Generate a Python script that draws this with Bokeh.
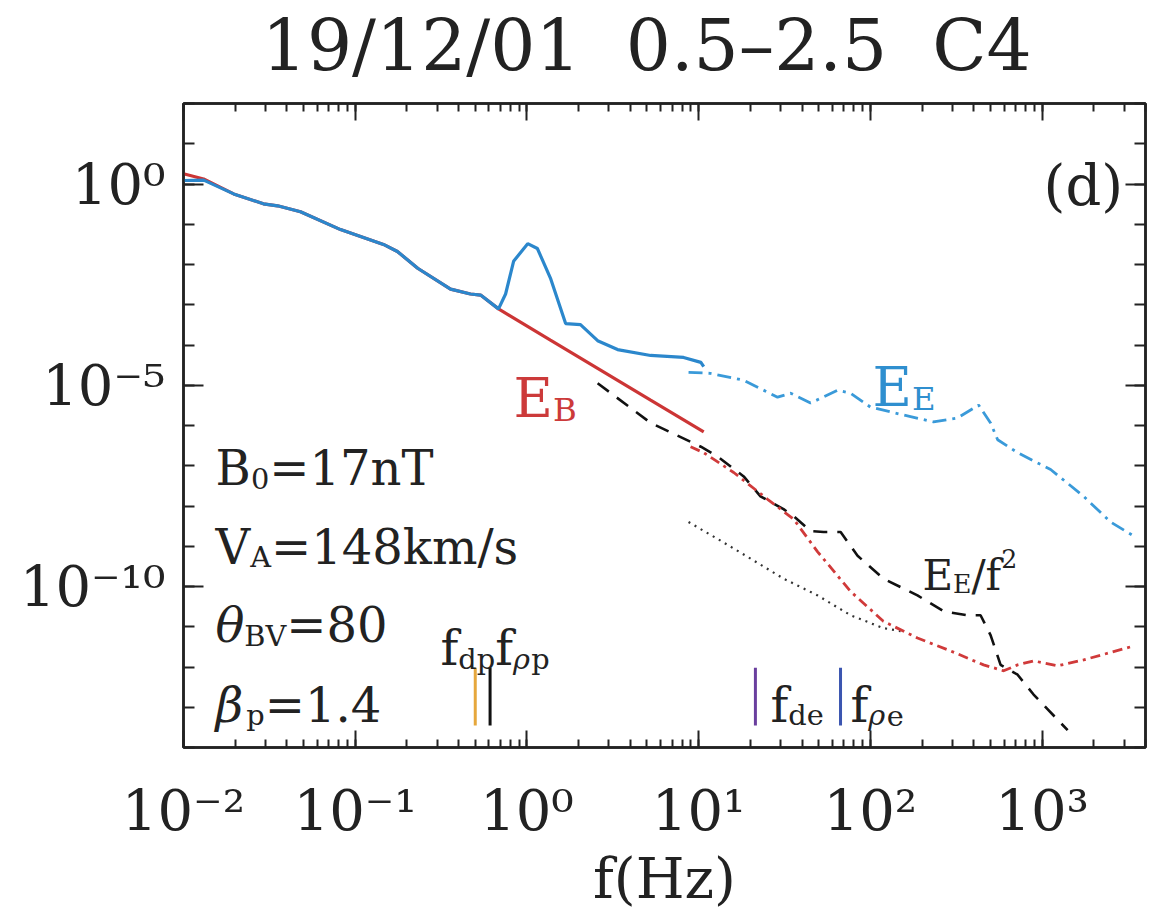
from bokeh.plotting import figure
from bokeh.models import Range1d, FixedTicker, LogAxis, CustomJSTickFormatter
from bokeh.core.properties import value
from bokeh.embed import file_html
from bokeh.resources import INLINE

FONT = "DejaVu Serif"

# ---------------- data ----------------
# E_E, solid (low frequency part)
f_ee_solid = [0.0100, 0.0131, 0.0196, 0.0292, 0.0353, 0.0480, 0.0821, 0.146, 0.176, 0.231,
              0.359, 0.469, 0.537, 0.683, 0.751, 0.836, 1.01, 1.15, 1.37, 1.68, 2.05, 2.58,
              3.37, 5.25, 8.17, 10.3, 10.7]
ee_solid = [1.22, 1.25, 0.567, 0.322, 0.287, 0.204, 0.0736, 0.0315, 0.0211, 8.06e-3,
            2.45e-3, 1.85e-3, 1.74e-3, 7.9e-4, 1.85e-3, 1.2e-2, 3.3e-2, 2.5e-2, 4.6e-3,
            3.4e-4, 3.2e-4, 1.28e-4, 7.7e-5, 5.5e-5, 4.9e-5, 3.7e-5, 2.9e-5]
# E_B, solid
f_eb_solid = [0.0100, 0.0131, 0.0196, 0.0292, 0.0353, 0.0480, 0.0821, 0.146, 0.176, 0.231,
              0.359, 0.469, 0.537, 0.683, 1.37, 2.58, 5.25, 10.7]
eb_solid = [1.79, 1.33, 0.567, 0.322, 0.287, 0.204, 0.0736, 0.0315, 0.0211, 8.06e-3,
            2.45e-3, 1.85e-3, 1.74e-3, 7.9e-4, 1.32e-4, 2.62e-5, 4.27e-6, 6.95e-7]
# E_E, dash-dot (high frequency part)
f_ee_dd = [8.73, 11.7, 18.3, 28.8, 34.3, 44.8, 64.4, 76.7, 100, 156, 233, 322, 427, 501,
           551, 720, 1121, 1745, 2505, 3411]
ee_dd = [2.09e-5, 1.98e-5, 1.33e-5, 5.06e-6, 6.35e-6, 3.6e-6, 7.53e-6, 6.35e-6, 2.87e-6,
         1.82e-6, 1.23e-6, 1.54e-6, 3.21e-6, 1.16e-6, 4.42e-7, 2.11e-7, 8.06e-8, 1.74e-8,
         3.99e-9, 1.80e-9]
# E_B, dash-dot (high frequency part)
f_eb_dd = [8.97, 10.7, 16.0, 25.2, 35.7, 49.3, 76.7, 119, 188, 293, 456, 597, 720, 892,
           1231, 1745, 3411]
eb_dd = [2.97e-7, 2.11e-7, 6.8e-8, 1.47e-8, 4.73e-9, 7.28e-10, 7.53e-11, 1.37e-11, 5.24e-12,
         2.51e-12, 1.13e-12, 8.05e-13, 1.13e-12, 1.42e-12, 1.07e-12, 1.50e-12, 3.32e-12]
# E_E / f^2, dashed
f_eef2 = [2.58, 5.25, 10.3, 12.9, 18.3, 22.9, 31.2, 35.7, 44.8, 53.4, 67.1, 84.2, 119, 188,
          267, 368, 438, 501, 573, 720, 892, 1408]
eef2 = [1.12e-5, 1.16e-6, 2.97e-7, 1.69e-7, 5.42e-8, 1.74e-8, 8.34e-9, 5.61e-9, 2.39e-9,
        2.26e-9, 2.26e-9, 5.8e-10, 1.57e-10, 6.0e-11, 2.42e-11, 1.93e-11, 1.93e-11, 6.21e-12,
        1.13e-12, 6.43e-13, 2.07e-13, 2.69e-14]
# dotted reference spectrum
f_dot = [8.73, 12.9, 20.1, 31.2, 49.3, 76.7, 119, 150]
e_dot = [3.99e-9, 1.52e-9, 4.9e-10, 1.57e-10, 6.0e-11, 1.93e-11, 9.24e-12, 7.8e-12]

# characteristic frequencies (vertical bars)
marker_freq = [0.50, 0.61, 21.4, 67.0]
marker_color = ["#e6a73c", "#111111", "#6a3f9e", "#3b55b0"]
marker_lo = 3.5e-14
marker_hi = 9.6e-13

x_ticks = [1e-2, 1e-1, 1e0, 1e1, 1e2, 1e3]
x_tick_labels = ["10\u207b\u00b2", "10\u207b\u00b9", "10\u2070", "10\u00b9", "10\u00b2", "10\u00b3"]
x_minor = [k * 10.0 ** d for d in range(-2, 4) for k in range(1, 10) if k * 10.0 ** d <= 4000]
y_ticks = [1e-10, 1e-5, 1e0]
y_tick_labels = ["10\u207b\u00b9\u2070", "10\u207b\u2075", "10\u2070"]
y_minor = [10.0 ** d for d in range(-14, 3)]

title_text = "19/12/01 \u00a00.5\u20132.5 \u00a0C4"
x_label = "f(Hz)"

# ---------------- figure ----------------
p = figure(width=1162, height=913, x_axis_type="log", y_axis_type="log",
           x_range=Range1d(0.01, 4000), y_range=Range1d(1e-14, 1e2),
           output_backend="svg", toolbar_location=None,
           min_border_left=183, min_border_right=17, min_border_top=101, min_border_bottom=163)
p.grid.visible = False
p.background_fill_color = "white"
p.border_fill_color = "white"
p.outline_line_color = "#222222"
p.outline_line_width = 2.5

fmt_code = """
let best = 0, d = Infinity;
for (let i = 0; i < tvals.length; i++) {
  const dd = Math.abs(Math.log10(tvals[i]) - Math.log10(tick));
  if (dd < d) { d = dd; best = i; }
}
return tlabels[best];
"""


def style_axis(ax, tick_list, minor, labels, major_len, minor_len, show):
    ax.ticker = FixedTicker(ticks=tick_list, minor_ticks=minor)
    ax.major_tick_in = major_len
    ax.major_tick_out = 0
    ax.minor_tick_in = minor_len
    ax.minor_tick_out = 0
    ax.axis_line_color = "#222222"
    ax.axis_line_width = 2.5
    ax.major_tick_line_color = "#222222"
    ax.major_tick_line_width = 2
    ax.minor_tick_line_color = "#222222"
    ax.minor_tick_line_width = 2
    if show:
        ax.formatter = CustomJSTickFormatter(args=dict(tvals=tick_list, tlabels=labels), code=fmt_code)
        ax.major_label_text_font = FONT
        ax.major_label_text_font_size = "56px"
        ax.major_label_text_color = "#222222"
    else:
        ax.formatter = CustomJSTickFormatter(code="return ''")
        ax.major_label_text_font_size = "1px"
        ax.major_label_standoff = 0


style_axis(p.xaxis[0], x_ticks, x_minor, x_tick_labels, 17, 8, True)
p.xaxis[0].major_label_standoff = 30
p.xaxis[0].axis_label = x_label
p.xaxis[0].axis_label_text_font = FONT
p.xaxis[0].axis_label_text_font_size = "56px"
p.xaxis[0].axis_label_text_font_style = "normal"
p.xaxis[0].axis_label_text_color = "#222222"
p.xaxis[0].axis_label_standoff = 0
style_axis(p.yaxis[0], y_ticks, y_minor, y_tick_labels, 20, 11, True)
p.yaxis[0].major_label_standoff = 18

# top axis carries the chart title as its label
top = LogAxis()
style_axis(top, x_ticks, x_minor, x_tick_labels, 17, 8, False)
top.axis_label = title_text + "\u2002"
top.axis_label_text_font = FONT
top.axis_label_text_font_size = "71px"
top.axis_label_text_font_style = "normal"
top.axis_label_text_color = "#222222"
top.axis_label_standoff = 17
p.add_layout(top, "above")
right = LogAxis()
style_axis(right, y_ticks, y_minor, y_tick_labels, 20, 11, False)
p.add_layout(right, "right")

# ---------------- curves ----------------
p.line(f_eb_solid, eb_solid, line_color="#cc3535", line_width=3.2)
p.line(f_ee_solid, ee_solid, line_color="#2b87cc", line_width=3.2)
p.line(f_dot, e_dot, line_color="#333333", line_width=2.2, line_dash="2 5")
p.line(f_eef2, eef2, line_color="#111111", line_width=2.6, line_dash="14 10")
p.line(f_eb_dd, eb_dd, line_color="#d03a3a", line_width=2.8, line_dash="10 5 3 5")
p.line(f_ee_dd, ee_dd, line_color="#3a9ad9", line_width=2.8, line_dash="14 6 3 6")
p.segment(x0=marker_freq, y0=[marker_lo] * len(marker_freq), x1=marker_freq,
          y1=[marker_hi] * len(marker_freq), line_color=marker_color, line_width=3)

# ---------------- texts ----------------
W = {" ": 0.318, "(": 0.390, ")": 0.390, ".": 0.318, "/": 0.337, "=": 0.838,
     "A": 0.722, "B": 0.738, "C": 0.734, "E": 0.729, "H": 0.872, "T": 0.720, "V": 0.722,
     "d": 0.640, "e": 0.592, "f": 0.370, "k": 0.610, "m": 0.948, "n": 0.644, "p": 0.640,
     "s": 0.513, "z": 0.525, "\u03b8": 0.600, "\u03b2": 0.640, "\u03c1": 0.640}
for c in "0123456789":
    W[c] = 0.636


def twidth(s, size):
    return sum(W.get(c, 0.6) for c in s) * size


def rich(x, y, segs, size, color):
    dx = 0.0
    for txt, kind, style in segs:
        if kind == "n":
            fs, dy = size, 0.0
        elif kind == "sub":
            fs, dy = size * 0.6, size * 0.22
        else:
            fs, dy = size * 0.6, -size * 0.40
        p.text(x=[x], y=[y], text=[txt], x_offset=dx, y_offset=dy,
               text_font=value(FONT), text_font_size=f"{fs:.1f}px", text_font_style=style,
               text_color=color, text_align="left", text_baseline="alphabetic")
        dx += twidth(txt, fs)


N, SUB, SUP = "n", "sub", "sup"
rich(0.836, 4.79e-6, [("E", N, "normal"), ("B", SUB, "normal")], 54, "#cc3a3a")
rich(103, 8.93e-6, [("E", N, "normal"), ("E", SUB, "normal")], 54, "#2f8fcf")
rich(201, 1.87e-10, [("E", N, "normal"), ("E", SUB, "normal"), ("/f", N, "normal"),
                     ("2", SUP, "normal")], 42, "#222222")
rich(1020, 0.90, [("(d)", N, "normal")], 56, "#222222")

x_left = 0.01536
rich(x_left, 9.03e-8, [("B", N, "normal"), ("0", SUB, "normal"), ("=17nT", N, "normal")], 48, "#222222")
rich(x_left, 9.66e-10, [("V", N, "normal"), ("A", SUB, "normal"), ("=148km/s", N, "normal")], 48, "#222222")
rich(x_left, 1.09e-11, [("\u03b8", N, "italic"), ("BV", SUB, "normal"), ("=80", N, "normal")], 48, "#222222")
rich(x_left, 1.17e-13, [("\u03b2", N, "italic"), ("p", SUB, "normal"), ("=1.4", N, "normal")], 48, "#222222")

rich(0.3139, 2.97e-12, [("f", N, "normal"), ("dp", SUB, "normal"), ("f", N, "normal"),
                        ("\u03c1", SUB, "italic"), ("p", SUB, "normal")], 48, "#222222")
rich(26.2, 1.17e-13, [("f", N, "normal"), ("de", SUB, "normal")], 48, "#222222")
rich(76.7, 1.17e-13, [("f", N, "normal"), ("\u03c1", SUB, "italic"), ("e", SUB, "normal")], 48, "#222222")

open("out.html", "w").write(file_html(p, INLINE))
